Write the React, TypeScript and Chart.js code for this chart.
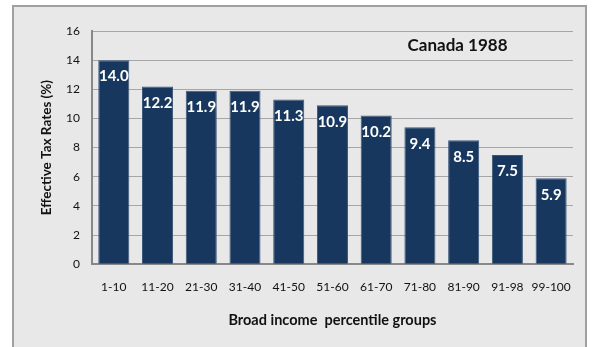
import React, { useEffect, useRef } from "react";
import { Chart, registerables } from "chart.js";

Chart.register(...registerables);

const categories = ["1-10", "11-20", "21-30", "31-40", "41-50", "51-60", "61-70", "71-80", "81-90", "91-98", "99-100"];
const rates = [14.0, 12.2, 11.9, 11.9, 11.3, 10.9, 10.2, 9.4, 8.5, 7.5, 5.9];
const chartTitle = "Canada 1988";
const xTitle = "Broad income  percentile groups";
const yTitle = "Effective Tax Rates (%)";

const FONT = "Lato, 'Open Sans', sans-serif";

const labelPlugin = {
  id: "labels",
  beforeDraw(chart: any) {
    const { ctx, width, height } = chart;
    ctx.save();
    ctx.fillStyle = "rgb(255,255,255)";
    ctx.fillRect(0, 0, width, height);
    ctx.fillStyle = "rgb(232,232,232)";
    ctx.fillRect(13, 6, 573, height);
    ctx.strokeStyle = "rgb(160,160,160)";
    ctx.lineWidth = 2;
    ctx.strokeRect(13, 6, 573, height + 10);
    ctx.restore();
  },
  afterDraw(chart: any) {
    const { ctx, chartArea } = chart;
    ctx.save();
    ctx.fillStyle = "#111111";
    ctx.font = `bold 17px ${FONT}`;
    ctx.textAlign = "center";
    ctx.textBaseline = "middle";
    ctx.fillText(chartTitle, chartArea.left + (chartArea.right - chartArea.left) * 0.76, chartArea.top + 15);
    ctx.save();
    ctx.translate(47, (chartArea.top + chartArea.bottom) / 2);
    ctx.rotate(-Math.PI / 2);
    ctx.font = `bold 13.5px ${FONT}`;
    ctx.fillText(yTitle, 0, 0);
    ctx.restore();
    const meta = chart.getDatasetMeta(0);
    ctx.fillStyle = "#ffffff";
    ctx.font = `bold 15px ${FONT}`;
    ctx.textBaseline = "top";
    meta.data.forEach((bar: any, i: number) => {
      ctx.fillText(rates[i].toFixed(1), bar.x, bar.y + 9);
    });
    ctx.restore();
  },
};

export default function App() {
  const ref = useRef<HTMLCanvasElement>(null);
  useEffect(() => {
    document.body.style.margin = "0";
    const chart = new Chart(ref.current!, {
      type: "bar",
      data: {
        labels: categories,
        datasets: [
          {
            data: rates,
            backgroundColor: "#17375e",
            borderColor: "#3d5779",
            borderWidth: 1,
            barPercentage: 0.71,
            categoryPercentage: 1,
          },
        ],
      },
      options: {
        animation: false,
        responsive: false,
        maintainAspectRatio: false,
        layout: { padding: { left: 54, top: 31, right: 21, bottom: 18 } },
        plugins: { legend: { display: false }, tooltip: { enabled: false } },
        scales: {
          x: {
            grid: { display: false, drawTicks: false },
            border: { color: "#888888", width: 2 },
            ticks: { color: "#111111", font: { family: FONT, size: 12 }, padding: 16, maxRotation: 0 },
            title: {
              display: true,
              text: xTitle,
              color: "#111111",
              font: { family: FONT, size: 14.5, weight: "bold" },
              padding: { top: 1, bottom: 0 },
            },
          },
          y: {
            min: 0,
            max: 16,
            ticks: { stepSize: 2, color: "#111111", font: { family: FONT, size: 12 }, padding: 12 },
            grid: { color: "#a6a6a6", drawTicks: false },
            border: { color: "#888888", width: 2 },
          },
        },
      },
      plugins: [labelPlugin],
    });
    return () => chart.destroy();
  }, []);
  return (
    <div style={{ width: 594, height: 347, background: "#ffffff" }}>
      <canvas ref={ref} width={594} height={347} style={{ display: "block" }} />
    </div>
  );
}
